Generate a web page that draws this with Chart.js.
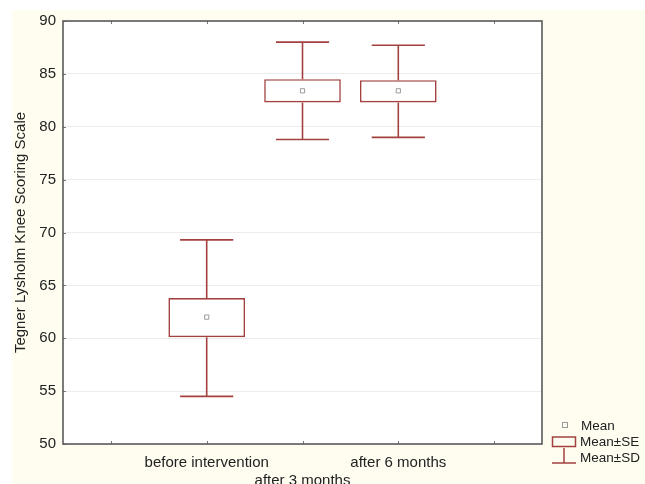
<!DOCTYPE html>
<html>
<head>
<meta charset="utf-8">
<script src="https://cdn.jsdelivr.net/npm/chart.js@4/dist/chart.umd.min.js"></script>
<style>
  html, body { margin: 0; padding: 0; background: #fff; }
  #wrap { width: 645px; height: 484px; }
</style>
</head>
<body>
<div id="wrap"><canvas id="box-chart" width="645" height="484"></canvas></div>
<script>
// categories (empty slots at both ends, like the original axis)
const categories = ['', 'before intervention', 'after 3 months', 'after 6 months', ''];
const means  = [null, 62.0, 83.4, 83.4, null];
const seLow  = [null, 60.1, 82.3, 82.3, null];
const seHigh = [null, 63.8, 84.5, 84.4, null];
const sdLow  = [null, 54.5, 78.8, 79.0, null];
const sdHigh = [null, 69.3, 88.0, 87.7, null];
const yMin = 50, yMax = 90, yStep = 5;

const RED = '#a3413f';
const FONT = 'Liberation Sans, Arial, sans-serif';

const backdrop = {
    id: 'backdrop',
    beforeDraw(chart) {
        const c = chart.ctx, a = chart.chartArea;
        c.save();
        c.fillStyle = '#fff';
        c.fillRect(0, 0, chart.width, chart.height);
        c.fillStyle = '#fffcf0';
        c.fillRect(12, 10, chart.width - 12, chart.height - 10);
        c.fillStyle = '#fff';
        c.fillRect(a.left, a.top, a.right - a.left, a.bottom - a.top);
        c.restore();
    }
};

const whiskers = {
    id: 'whiskers',
    afterDatasetsDraw(chart) {
        const c = chart.ctx, x = chart.scales.x, y = chart.scales.y;
        const step = x.getPixelForValue(1) - x.getPixelForValue(0);
        const cap = step * 0.555 / 2;
        c.save();
        c.strokeStyle = RED;
        c.lineWidth = 1.6;
        for (let i = 0; i < categories.length; i++) {
            if (sdLow[i] == null) continue;
            const px = x.getPixelForValue(i);
            const yTop = y.getPixelForValue(sdHigh[i]);
            const yBot = y.getPixelForValue(sdLow[i]);
            c.beginPath();
            c.moveTo(px, y.getPixelForValue(seHigh[i])); c.lineTo(px, yTop);
            c.moveTo(px - cap, yTop); c.lineTo(px + cap, yTop);
            c.moveTo(px, y.getPixelForValue(seLow[i])); c.lineTo(px, yBot);
            c.moveTo(px - cap, yBot); c.lineTo(px + cap, yBot);
            c.stroke();
        }
        c.restore();
    }
};

const frame = {
    id: 'frame',
    afterDraw(chart) {
        const c = chart.ctx, a = chart.chartArea, x = chart.scales.x, y = chart.scales.y;
        c.save();
        // small inward ticks
        c.strokeStyle = '#777';
        c.lineWidth = 1;
        c.beginPath();
        y.ticks.forEach(t => {
            const py = Math.round(y.getPixelForValue(t.value)) + 0.5;
            c.moveTo(a.left, py); c.lineTo(a.left + 3, py);
        });
        for (let i = 0; i < categories.length; i++) {
            const px = Math.round(x.getPixelForValue(i)) + 0.5;
            c.moveTo(px, a.top); c.lineTo(px, a.top + 3);
            c.moveTo(px, a.bottom); c.lineTo(px, a.bottom - 3);
        }
        c.stroke();
        // plot border
        c.strokeStyle = '#5a5a5a';
        c.lineWidth = 1.6;
        c.strokeRect(a.left, a.top, a.right - a.left, a.bottom - a.top);

        // legend
        c.font = '13.5px ' + FONT;
        c.fillStyle = '#222';
        c.textBaseline = 'middle';
        c.textAlign = 'left';
        c.fillText('Mean', 581, 426);
        c.fillText('Mean\u00b1SE', 580, 442);
        c.fillText('Mean\u00b1SD', 580, 458);
        c.strokeStyle = '#999';
        c.lineWidth = 1;
        c.strokeRect(562.5, 422.5, 5, 5);
        c.strokeStyle = RED;
        c.lineWidth = 1.5;
        c.strokeRect(552.5, 437, 23, 9.5);
        c.beginPath();
        c.moveTo(564, 448); c.lineTo(564, 463);
        c.moveTo(552, 463); c.lineTo(576, 463);
        c.stroke();
        c.restore();
    }
};

new Chart(document.getElementById('box-chart').getContext('2d'), {
    type: 'bar',
    data: {
        labels: categories,
        datasets: [
            {
                type: 'line',
                label: 'Mean',
                data: means,
                showLine: false,
                pointStyle: 'rect',
                pointRadius: 3,
                pointHoverRadius: 3,
                borderColor: '#9a9a9a',
                backgroundColor: 'rgba(0,0,0,0)',
                borderWidth: 1,
                order: 0
            },
            {
                label: 'Mean\u00b1SE',
                data: seLow.map((v, i) => v == null ? null : [v, seHigh[i]]),
                backgroundColor: 'rgba(255,255,255,1)',
                borderColor: RED,
                borderWidth: 1.6,
                borderSkipped: false,
                barPercentage: 0.8,
                categoryPercentage: 1.0,
                order: 1
            }
        ]
    },
    options: {
        responsive: false,
        devicePixelRatio: 1,
        animation: false,
        layout: { padding: { left: 0, top: 21, right: 103, bottom: 0 } },
        plugins: {
            legend: { display: false },
            tooltip: { enabled: false }
        },
        scales: {
            x: {
                offset: true,
                grid: { display: false, drawTicks: false },
                border: { display: false },
                ticks: {
                    autoSkip: false,
                    maxRotation: 0,
                    padding: 9,
                    color: '#222',
                    font: { family: FONT, size: 15, lineHeight: 1.25 },
                    callback: (v, i) => i === 2 ? ['', categories[i]] : categories[i]
                },
                afterFit: s => { s.height = 40; }
            },
            y: {
                min: yMin,
                max: yMax,
                ticks: {
                    stepSize: yStep,
                    padding: 7,
                    color: '#222',
                    font: { family: FONT, size: 15 }
                },
                grid: { color: '#ececec', drawTicks: false },
                border: { display: false },
                title: {
                    display: true,
                    text: 'Tegner Lysholm Knee Scoring Scale',
                    color: '#222',
                    font: { family: FONT, size: 15 },
                    padding: { top: 12, bottom: 0 }
                },
                afterFit: s => { s.width = 63; }
            }
        }
    },
    plugins: [backdrop, whiskers, frame]
});
</script>
</body>
</html>
